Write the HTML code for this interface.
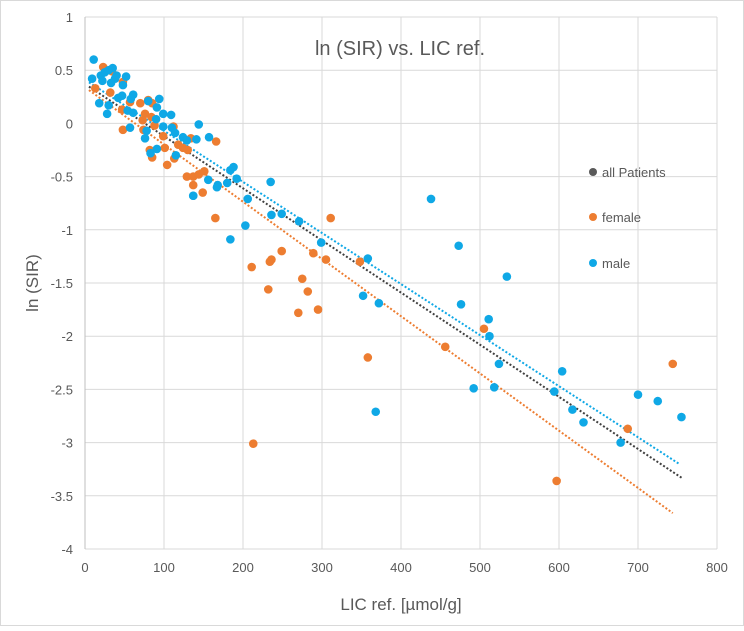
<!DOCTYPE html>
<html><head><meta charset="utf-8"><style>
body{margin:0;background:#fff;font-family:"Liberation Sans",sans-serif}
svg text{font-family:"Liberation Sans",sans-serif;fill:#595959}
</style></head><body>
<svg id="chart" width="744" height="626" xmlns="http://www.w3.org/2000/svg">
<rect x="0.5" y="0.5" width="743" height="625" fill="#fff" stroke="#d9d9d9"/>
<g id="grid"></g><g id="axes"></g><g id="trend"></g><g id="pts"></g>
<text x="400" y="55" font-size="20" text-anchor="middle">ln (SIR) vs. LIC ref.</text>
<text x="38" y="283" font-size="17" text-anchor="middle" transform="rotate(-90 38 283)">ln (SIR)</text>
<text x="401" y="610" font-size="17" text-anchor="middle">LIC ref. [µmol/g]</text>
<g>
<circle cx="593" cy="172" r="4" fill="#595959"/>
<text x="602" y="177" font-size="13">all Patients</text>
<circle cx="593" cy="217" r="4" fill="#ED7D31"/>
<text x="602" y="222" font-size="13">female</text>
<circle cx="593" cy="263" r="4" fill="#0FA8E6"/>
<text x="602" y="268" font-size="13">male</text>
</g>
</svg>
<script>
const xTicks=[0,100,200,300,400,500,600,700,800];
const yTicks=[1,0.5,0,-0.5,-1,-1.5,-2,-2.5,-3,-3.5,-4];
const maleX=[11,9,18,28,30,20,25,30,35,40,22,33,38,52,48,42,47,61,58,91,94,54,61,99,109,90,78,57,99,110,114,76,83,91,115,124,129,141,144,157,137,156,168,167,180,184,188,192,137,206,235,203,184,236,249,271,299,358,352,372,368,438,473,534,476,511,512,524,492,518,604,594,617,631,678,700,725,755,80];
const maleY=[0.60,0.42,0.19,0.09,0.17,0.45,0.48,0.50,0.52,0.45,0.40,0.38,0.42,0.44,0.36,0.24,0.26,0.27,0.23,0.15,0.23,0.12,0.10,0.09,0.08,0.04,-0.07,-0.04,-0.03,-0.04,-0.09,-0.14,-0.28,-0.24,-0.30,-0.13,-0.16,-0.15,-0.01,-0.13,-0.68,-0.53,-0.58,-0.60,-0.56,-0.44,-0.41,-0.52,-0.68,-0.71,-0.55,-0.96,-1.09,-0.86,-0.85,-0.92,-1.12,-1.27,-1.62,-1.69,-2.71,-0.71,-1.15,-1.44,-1.70,-1.84,-2.00,-2.26,-2.49,-2.48,-2.33,-2.52,-2.69,-2.81,-3.00,-2.55,-2.61,-2.76,0.21];
const femaleX=[23,34,13,32,48,57,70,47,76,80,85,84,73,74,48,88,112,99,82,85,101,104,113,118,124,130,134,166,129,137,137,144,151,149,165,211,234,236,249,232,275,282,270,295,289,311,305,348,358,213,456,505,597,687,744];
const femaleY=[0.53,0.49,0.33,0.29,0.39,0.20,0.19,0.13,0.09,0.22,0.19,0.06,0.03,-0.06,-0.06,-0.02,-0.03,-0.12,-0.25,-0.32,-0.23,-0.39,-0.33,-0.20,-0.23,-0.25,-0.14,-0.17,-0.50,-0.50,-0.58,-0.48,-0.45,-0.65,-0.89,-1.35,-1.30,-1.28,-1.20,-1.56,-1.46,-1.58,-1.78,-1.75,-1.22,-0.89,-1.28,-1.30,-2.20,-3.01,-2.10,-1.93,-3.36,-2.87,-2.26];
const trendNames=['all','male','female'];
const trendSlope=[-0.0049,-0.0048,-0.00538];
const trendIntercept=[0.37,0.41,0.34];
const trendXStart=[5,5,5];
const trendXEnd=[756,753,744];
const trendColors=['#404040','#0FA8E6','#ED7D31'];

const NS='http://www.w3.org/2000/svg';
const X0=85,X1=717,Y0=17,Y1=549;
function sx(v){return X0+(v-0)/(800-0)*(X1-X0);}
function sy(v){return Y0+(1-v)/(1-(-4))*(Y1-Y0);}
function mk(tag,attrs,parent){const e=document.createElementNS(NS,tag);for(const k in attrs)e.setAttribute(k,attrs[k]);parent.appendChild(e);return e;}
const grid=document.getElementById('grid'),axes=document.getElementById('axes'),trend=document.getElementById('trend'),pts=document.getElementById('pts');

xTicks.forEach(t=>{
  const l=mk('line',{x1:sx(t),x2:sx(t),y1:Y0,y2:Y1,stroke:'#d9d9d9','stroke-width':1},grid);
  
  
  const tx=mk('text',{x:sx(t),y:Y1+23,'font-size':13,'text-anchor':'middle'},axes);
  tx.textContent=t;
  
  
});
yTicks.forEach(t=>{
  const l=mk('line',{x1:X0,x2:X1,y1:sy(t),y2:sy(t),stroke:'#d9d9d9','stroke-width':1},grid);
  
  
  const tx=mk('text',{x:X0-12,y:sy(t)+5,'font-size':13,'text-anchor':'end'},axes);
  tx.textContent=t;
  
  
});
const ax=mk('line',{x1:X0,x2:X0,y1:Y0,y2:Y1,stroke:'#bfbfbf','stroke-width':1},axes);



trendNames.forEach((n,i)=>{
  const a=trendXStart[i],b=trendXEnd[i];
  const l=mk('line',{x1:sx(a),y1:sy(trendIntercept[i]+trendSlope[i]*a),x2:sx(b),y2:sy(trendIntercept[i]+trendSlope[i]*b),stroke:trendColors[i],'stroke-width':2,'stroke-dasharray':'2 2'},trend);
  
  
});

femaleX.forEach((v,i)=>{
  const c=mk('circle',{cx:sx(v),cy:sy(femaleY[i]),r:4.3,fill:'#ED7D31'},pts);
  
  
});
maleX.forEach((v,i)=>{
  const c=mk('circle',{cx:sx(v),cy:sy(maleY[i]),r:4.3,fill:'#0FA8E6'},pts);
  
  
});
</script>
</body></html>
